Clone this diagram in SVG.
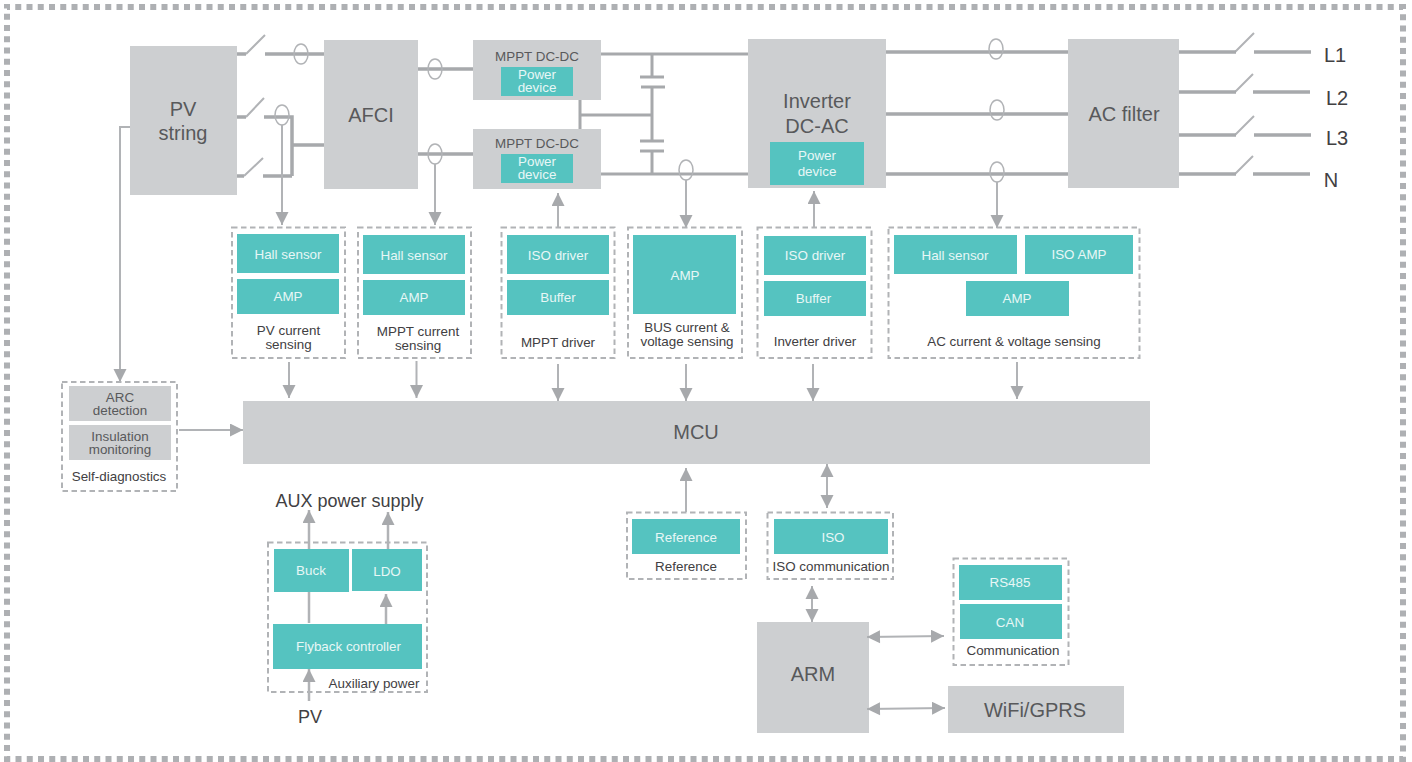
<svg xmlns="http://www.w3.org/2000/svg" width="1412" height="762" viewBox="0 0 1412 762">
<defs>
<style>
text{font-family:"Liberation Sans",Arial,sans-serif;text-anchor:middle;dominant-baseline:central}
.g{fill:#cdcfd1}.t{fill:#55c3c0}
.d{fill:none;stroke:#b1b3b6;stroke-width:2;stroke-dasharray:5.5 3.5}
.lg{font-size:20px;fill:#58595b}
.md{font-size:13.4px;fill:#58595b}
.w{font-size:13.4px;fill:#e8f7f6}
.k{font-size:13.4px;fill:#414042}
.o{font-size:18px;fill:#414042}
.bus{fill:none;stroke:#a7a9ac;stroke-width:3.5}
.bus2{fill:none;stroke:#a7a9ac;stroke-width:3}
.sw{fill:none;stroke:#b1b3b6;stroke-width:2}
.ln{fill:none;stroke:#b1b3b6;stroke-width:2}
.ln3{fill:none;stroke:#b1b3b6;stroke-width:2.500}
.ct{fill:none;stroke:#b1b3b6;stroke-width:1.5}
.a{marker-end:url(#ah)}
.b{marker-end:url(#ah);marker-start:url(#as)}
</style>
<marker id="ah" markerUnits="userSpaceOnUse" markerWidth="14" markerHeight="14" refX="13" refY="6.5" orient="auto"><path d="M0 0L13 6.5L0 13Z" fill="#a7a9ac"/></marker>
<marker id="as" markerUnits="userSpaceOnUse" markerWidth="14" markerHeight="14" refX="0" refY="6.5" orient="auto"><path d="M13 0L0 6.5L13 13Z" fill="#a7a9ac"/></marker>
</defs>
<rect id="frame" x="7" y="7" width="1396" height="752" fill="none" stroke="#aeb0b3" stroke-width="6" stroke-dasharray="6 5.25" stroke-dashoffset="3"/>
<g id="arm"><rect class="g" x="757" y="622" width="112" height="111"/><text class="lg" x="813" y="674">ARM</text></g>
<g id="connectors">
<path class="bus" d="M237 54H246M265 54H324M237 117H246M264 117H292V176M237 176H244M263 176H292M292 145H324M418 69H473M418 154H473"/>
<path class="sw" d="M246 54L265 35M246 117L264 98M244 176L263 158M1235 52L1254 33M1235 92L1253 74M1235 135L1254 116M1235 174L1253 156"/>
<path class="bus2" d="M601 54H748M601 174H748M580 100V129M580 115H652M652 54V77M652 87V141M652 151V174M640 77H664M641 87H665M640 141H664M640 151H664"/>
<path class="bus" d="M886 52H1068M886 114H1068M886 174H1068M1179 52H1236M1254 52H1311M1179 92H1236M1253 92H1310M1179 135H1236M1254 135H1311M1179 174H1236M1253 174H1310"/>
<ellipse class="ct" cx="301" cy="54" rx="7" ry="10"/>
<ellipse class="ct" cx="282" cy="115" rx="7" ry="10"/>
<ellipse class="ct" cx="435" cy="69" rx="7" ry="10"/>
<ellipse class="ct" cx="435" cy="154" rx="7" ry="10"/>
<ellipse class="ct" cx="686" cy="170" rx="7" ry="10"/>
<ellipse class="ct" cx="996" cy="49" rx="7" ry="10"/>
<ellipse class="ct" cx="997" cy="110" rx="7" ry="10"/>
<ellipse class="ct" cx="997" cy="172" rx="7" ry="10"/>
<path class="ln a" d="M282 125V225"/>
<path class="ln a" d="M435 164V225"/>
<path class="ln a" d="M558 227V193"/>
<path class="ln a" d="M686 180V228"/>
<path class="ln a" d="M814 227V191"/>
<path class="ln a" d="M997 182V228"/>
<path class="ln a" d="M130 127H120V382"/>
<path class="ln a" d="M289 362V398"/>
<path class="ln a" d="M416.500 361V398"/>
<path class="ln a" d="M558 364V401"/>
<path class="ln a" d="M686 364V401"/>
<path class="ln a" d="M813 364V401"/>
<path class="ln a" d="M1017 362V399"/>
<path class="ln a" d="M179 430H243"/>
<path class="ln a" d="M686 512V468"/>
<path class="ln b" d="M827 464V508"/>
<path class="ln b" d="M812 586V622"/>
<path class="ln b" d="M867 637L944 636"/>
<path class="ln b" d="M867 709L945 708"/>
<path class="ln3 a" d="M309 549V510"/>
<path class="ln3 a" d="M388 549V512"/>
<path class="ln3" d="M309 592V623"/>
<path class="ln3 a" d="M386 624V594"/>
<path class="ln3 a" d="M309 701V669"/>
</g>
<g id="pv-string"><rect class="g" x="130" y="46" width="107" height="149"/><text class="lg" x="183" y="109">PV</text><text class="lg" x="183" y="133">string</text></g>
<g id="afci"><rect class="g" x="324" y="40" width="94" height="149"/><text class="lg" x="371" y="115">AFCI</text></g>
<g id="mppt1"><rect class="g" x="473" y="40" width="128" height="60"/><text class="md" x="537" y="56.500">MPPT DC-DC</text><rect class="t" x="501" y="67" width="72" height="29"/><text class="w" x="537" y="74">Power</text><text class="w" x="537" y="87">device</text></g>
<g id="mppt2"><rect class="g" x="473" y="129" width="128" height="60"/><text class="md" x="537" y="143.500">MPPT DC-DC</text><rect class="t" x="501" y="154" width="72" height="29"/><text class="w" x="537" y="161">Power</text><text class="w" x="537" y="174">device</text></g>
<g id="inverter"><rect class="g" x="748" y="39" width="138" height="149"/><text class="lg" x="817" y="101">Inverter</text><text class="lg" x="817" y="126">DC-AC</text><rect class="t" x="770" y="142" width="94" height="43"/><text class="w" x="817" y="155">Power</text><text class="w" x="817" y="171">device</text></g>
<g id="ac-filter"><rect class="g" x="1068" y="39" width="111" height="149"/><text class="lg" x="1124" y="114">AC filter</text></g>
<g id="outputs"><text class="o" style="font-size:20px" x="1335" y="55">L1</text><text class="o" style="font-size:20px" x="1337" y="98">L2</text><text class="o" style="font-size:20px" x="1337" y="138">L3</text><text class="o" style="font-size:20px" x="1331" y="180">N</text></g>
<g id="pv-current"><rect class="d" x="232" y="227.500" width="113" height="130.500"/><rect class="t" x="237" y="234" width="102" height="39"/><text class="w" x="288" y="254.500">Hall sensor</text><rect class="t" x="237" y="279" width="102" height="35"/><text class="w" x="288" y="296">AMP</text><text class="k" x="288.500" y="330">PV current</text><text class="k" x="288.500" y="344">sensing</text></g>
<g id="mppt-current"><rect class="d" x="358" y="227.500" width="113" height="130.500"/><rect class="t" x="363" y="235" width="102" height="39"/><text class="w" x="414" y="255.500">Hall sensor</text><rect class="t" x="363" y="280" width="102" height="35"/><text class="w" x="414" y="297">AMP</text><text class="k" x="418" y="331">MPPT current</text><text class="k" x="418" y="345">sensing</text></g>
<g id="mppt-driver"><rect class="d" x="501.500" y="227.500" width="113" height="130.500"/><rect class="t" x="507" y="235" width="102" height="39"/><text class="w" x="558" y="255.500">ISO driver</text><rect class="t" x="507" y="280" width="102" height="35"/><text class="w" x="558" y="297">Buffer</text><text class="k" x="558" y="342.500">MPPT driver</text></g>
<g id="bus-sensing"><rect class="d" x="628" y="227.500" width="114" height="130.500"/><rect class="t" x="633" y="235" width="103" height="79"/><text class="w" x="685" y="275">AMP</text><text class="k" x="687" y="327">BUS current &amp;</text><text class="k" x="687" y="341">voltage sensing</text></g>
<g id="inverter-driver"><rect class="d" x="757.500" y="227.500" width="114" height="130.500"/><rect class="t" x="764" y="236" width="102" height="39"/><text class="w" x="815" y="255.500">ISO driver</text><rect class="t" x="764" y="281" width="102" height="35"/><text class="w" x="813.500" y="298">Buffer</text><text class="k" x="815" y="341.500">Inverter driver</text></g>
<g id="ac-sensing"><rect class="d" x="888.500" y="227.500" width="251" height="130.500"/><rect class="t" x="894" y="235" width="123" height="39"/><text class="w" x="955" y="255.500">Hall sensor</text><rect class="t" x="1025" y="235" width="108" height="39"/><text class="w" x="1079" y="254.500">ISO AMP</text><rect class="t" x="966" y="281" width="103" height="35"/><text class="w" x="1017" y="298">AMP</text><text class="k" x="1014" y="341.500">AC current &amp; voltage sensing</text></g>
<g id="self-diagnostics"><rect class="d" x="62" y="382" width="115" height="109"/><rect class="g" x="69" y="386" width="102" height="35"/><text class="md" x="120" y="397">ARC</text><text class="md" x="120" y="410.500">detection</text><rect class="g" x="69" y="425" width="102" height="35"/><text class="md" x="120" y="436.500">Insulation</text><text class="md" x="120" y="449.500">monitoring</text><text class="k" x="119" y="476.500">Self-diagnostics</text></g>
<g id="mcu"><rect class="g" x="243" y="401" width="907" height="63"/><text class="lg" x="696" y="432">MCU</text></g>
<g id="aux-power"><rect class="d" x="268" y="542.500" width="159" height="149.500"/><rect class="t" x="274" y="549" width="75" height="43"/><text class="w" x="311" y="570.500">Buck</text><rect class="t" x="352" y="549" width="70" height="42"/><text class="w" x="387" y="571">LDO</text><rect class="t" x="273" y="624" width="149" height="45"/><text class="w" x="348.500" y="646.500">Flyback controller</text><text class="k" x="374" y="683">Auxiliary power</text></g>
<text id="aux-label" class="o" x="349.500" y="501">AUX power supply</text>
<text id="pv-label" class="o" x="310" y="717">PV</text>
<g id="reference"><rect class="d" x="627" y="512.500" width="119" height="66.500"/><rect class="t" x="632" y="519" width="108" height="35"/><text class="w" x="686" y="537">Reference</text><text class="k" x="686" y="566">Reference</text></g>
<g id="iso-comm"><rect class="d" x="767.500" y="512.500" width="125.500" height="66.500"/><rect class="t" x="774" y="519" width="114" height="35"/><text class="w" x="833" y="537">ISO</text><text class="k" x="831" y="566">ISO communication</text></g>
<g id="communication"><rect class="d" x="953.500" y="558.500" width="115" height="106.500"/><rect class="t" x="959" y="565" width="103" height="35"/><text class="w" x="1010" y="582">RS485</text><rect class="t" x="960" y="604" width="102" height="35"/><text class="w" x="1010" y="622">CAN</text><text class="k" x="1013" y="650">Communication</text></g>
<g id="wifi"><rect class="g" x="948" y="686" width="176" height="47"/><text class="lg" x="1035" y="710">WiFi/GPRS</text></g>
</svg>
